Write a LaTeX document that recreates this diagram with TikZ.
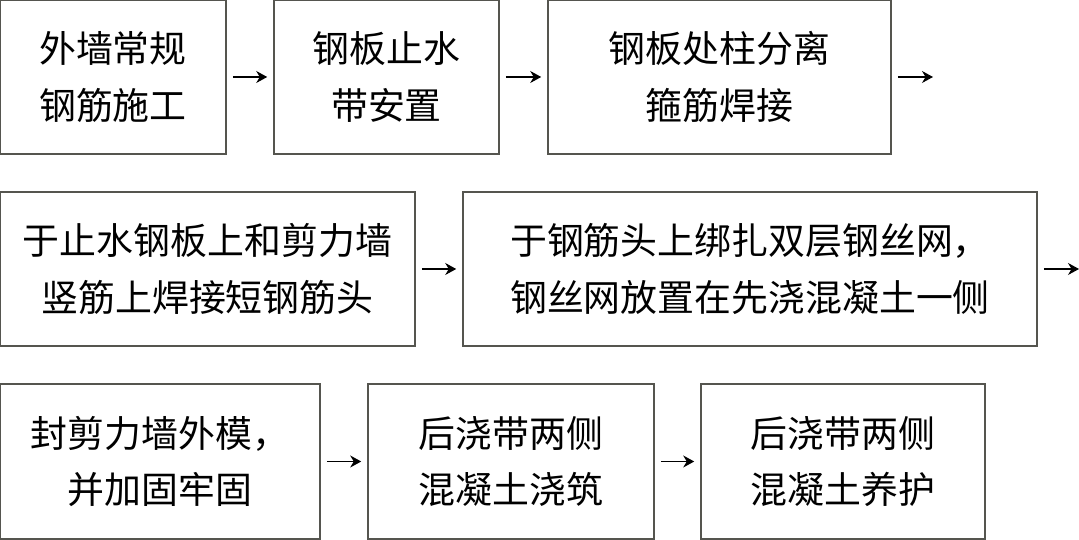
\documentclass[tikz,border=0pt]{standalone}
\usepackage{fontspec}
\newfontfamily\cjk{Noto Sans CJK SC}
\usepackage{tikz}
\usetikzlibrary{arrows.meta,positioning,calc}
\definecolor{rimgray}{HTML}{55554F}
\tikzset{
  >={Stealth[length=2.2mm,width=2.4mm]},
  % steg
  pn/.style={rectangle,draw=rimgray,fill=white,line width=0.9pt,inner sep=0pt,
             minimum height=3.08cm,align=center,
             font=\cjk\fontsize{21}{32}\selectfont},
  pe/.style={->,draw=black,line width=0.6pt,shorten <=1.2mm,shorten >=1.2mm},
}
\begin{document}
\begin{tikzpicture}
\useasboundingbox (0,0) rectangle (21.58,10.8);
  \node[pn,minimum width=4.52cm] (b1) at (2.26,9.26) {外墙常规\\钢筋施工};
  \node[pn,minimum width=4.50cm] (b2) at (7.73,9.26) {钢板止水\\带安置};
  \node[pn,minimum width=6.86cm] (b3) at (14.39,9.26) {钢板处柱分离\\箍筋焊接};
  \node[pn,minimum width=8.30cm] (b4) at (4.15,5.42) {于止水钢板上和剪力墙\\竖筋上焊接短钢筋头};
  \node[pn,minimum width=11.48cm] (b5) at (15.00,5.42) {于钢筋头上绑扎双层钢丝网，\\钢丝网放置在先浇混凝土一侧};
  \node[pn,minimum width=6.40cm,minimum height=3.10cm] (b6) at (3.20,1.57) {封剪力墙外模，\\并加固牢固};
  \node[pn,minimum width=5.72cm,minimum height=3.10cm] (b7) at (10.22,1.57) {后浇带两侧\\混凝土浇筑};
  \node[pn,minimum width=5.68cm,minimum height=3.10cm] (b8) at (16.86,1.57) {后浇带两侧\\混凝土养护};
  \coordinate (e3) at (18.78,9.26);
  \coordinate (e5) at (21.70,5.42);
  \draw[pe] (b1) -- (b2);
  \draw[pe] (b2) -- (b3);
  \draw[pe] (b3) -- (e3);
  \draw[pe] (b4) -- (b5);
  \draw[pe] (b5) -- (e5);
  \draw[pe] (b6) -- (b7);
  \draw[pe] (b7) -- (b8);
\end{tikzpicture}
\end{document}
